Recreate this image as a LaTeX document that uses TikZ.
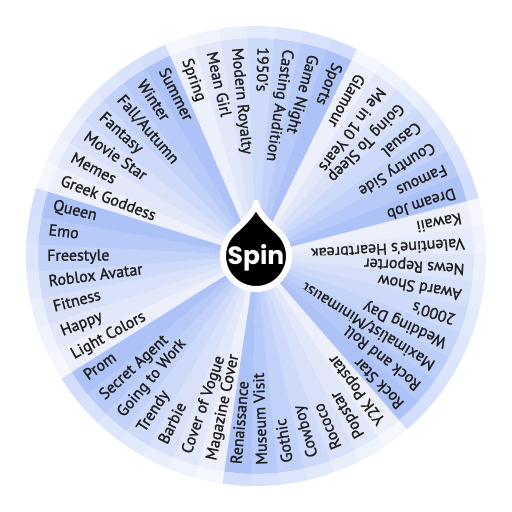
\documentclass[tikz,border=0pt]{standalone}
\usepackage{fontspec}
\setmainfont{PT Sans}
\newfontfamily\lblfont{PT Sans}[FakeBold=1.3]
\newfontfamily\spinfont{Poppins}
\definecolor{wlight}{HTML}{EDF0FA}
\definecolor{wdark}{HTML}{ADC3F8}
\definecolor{txt}{HTML}{1E1E1E}
\begin{document}
\begin{tikzpicture}[x=1pt,y=1pt,
  lbl/.style={anchor=west, inner sep=0pt, text height=0.7em, text depth=0pt,
    font=\lblfont\fontsize{16}{16}\selectfont, text=txt},
  spinlbl/.style={anchor=base, inner sep=0pt, text=white,
    font=\spinfont\bfseries\fontsize{25}{25}\selectfont}]
\useasboundingbox (0,0) rectangle (512,512);
\fill[white] (0,0) rectangle (512,512);
\coordinate (C) at (256,256);
\def\seg{7.0588}
\foreach \t/\s [count=\i from 0] in {
  Spring/0, Mean Girl/17, Modern Royalty/33, 1950's/50, Casting Audition/67, Game Night/83, Sports/100,
  Glamour/0, Me in 10 Years/17, Going To Sleep/33, Casual/50, Country Side/67, Famous/83, Dream Job/100,
  Kawaii/0, Valentine's Heartbreak/12, News Reporter/25, Award Show/37, 2000's/50, Wedding Day/62, {Maximalist/Minimalist}/75, Rock and Roll/88, Rock Star/100,
  Y2K Popstar/0, Popstar/17, Rococo/33, Cowboy/50, Gothic/67, Museum Visit/83, Renaissance/100,
  Magazine Cover/0, Cover of Vogue/17, Barbie/33, Trendy/50, Going to Work/67, Secret Agent/83, Prom/100,
  Light Colors/0, Happy/17, Fitness/33, Roblox Avatar/50, Freestyle/67, Emo/83, Queen/100,
  Greek Goddess/0, Memes/17, Movie Star/33, Fantasy/50, {Fall/Autumn}/67, Winter/83, Summer/100}{
  \pgfmathsetmacro\ph{109.78-\i*\seg}
  \pgfmathsetmacro\pa{\ph+\seg/2+0.08}
  \pgfmathsetmacro\pb{\ph-\seg/2-0.08}
  \fill[wdark!\s!wlight] (C) -- ([shift={(C)}]\pa:218)
     arc[start angle=\pa, end angle=\pb, radius=218] -- cycle;
  \fill[wdark!\s!wlight!55!white] ([shift={(C)}]\pa:218) -- ([shift={(C)}]\pa:230)
     arc[start angle=\pa, end angle=\pb, radius=230] -- ([shift={(C)}]\pb:218)
     arc[start angle=\pb, end angle=\pa, radius=218] -- cycle;
  \node[lbl, rotate=\ph+180] (l\i) at ([shift={(C)}]\ph:209) {\t};
}
\begin{scope}[shift={(256,256)}]
  \path[draw=white, line width=6pt, fill=black, line join=round]
    (0,53) .. controls (-1,44) and (-14.1,31.5) .. (131:33)
    arc[start angle=131, end angle=409, radius=33]
    .. controls (14.1,31.5) and (1,44) .. (0,53) -- cycle;
\end{scope}
\node[spinlbl] (spin) at (256,247) {Spin};
\end{tikzpicture}
\end{document}
